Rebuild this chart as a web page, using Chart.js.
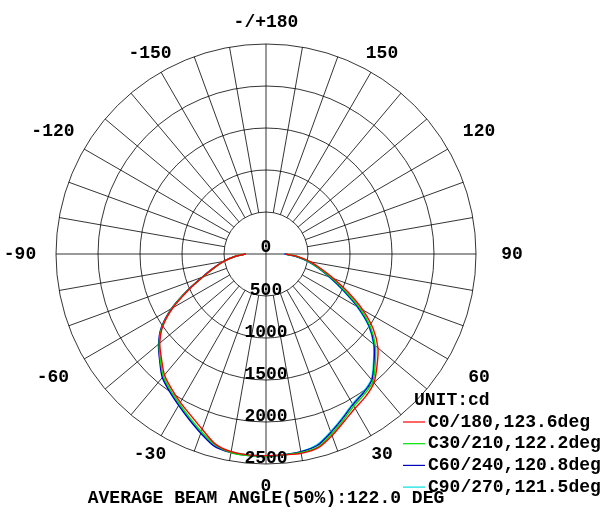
<!DOCTYPE html>
<html><head><meta charset="utf-8">
<script src="https://cdn.jsdelivr.net/npm/chart.js@4"></script>
<style>html,body{margin:0;padding:0;background:#fff}</style>
</head><body>
<canvas id="c" width="600" height="521"></canvas>
<script>
const gammaAngles = [0,5,10,15,20,25,30,35,40,45,50,55,60,65,70,75,80,85,90];
const seriesNames = ['C0/180,123.6deg','C30/210,122.2deg','C60/240,120.8deg','C90/270,121.5deg'];
const seriesColors = ['#ff0000','#00e000','#0000c0','#00e0e0'];
// intensity (cd) on the right side (positive gamma) and left side (negative gamma)
const c0Right  = [2400,2400,2410,2390,2300,2200,2120,2070,2000,1870,1740,1560,1330,1080,860,680,540,390,230];
const c0Left   = [2400,2400,2390,2340,2220,2120,2040,1960,1880,1760,1650,1500,1280,1020,800,640,510,380,240];
const c30Right = [2400,2400,2400,2380,2280,2180,2090,2040,1980,1840,1700,1520,1290,1040,830,660,520,380,230];
const c30Left  = [2410,2410,2400,2350,2250,2150,2060,1980,1900,1780,1660,1510,1290,1030,800,640,510,380,240];
const c60Right = [2400,2400,2390,2360,2260,2160,2070,2020,1960,1820,1680,1500,1260,1010,810,650,510,370,220];
const c60Left  = [2410,2410,2400,2370,2270,2170,2080,2000,1920,1790,1670,1520,1300,1040,810,650,520,380,240];
const c90Right = [2400,2400,2390,2350,2250,2150,2060,2010,1950,1810,1670,1490,1250,1000,800,640,500,370,220];
const c90Left  = [2400,2400,2390,2360,2260,2160,2070,1990,1910,1780,1660,1510,1290,1030,800,640,510,380,240];
const rightSets = [c0Right,c30Right,c60Right,c90Right];
const leftSets = [c0Left,c30Left,c60Left,c90Left];
const ringValues = [500,1000,1500,2000,2500];
const angleLabels = [['-/+180',180],['150',150],['-150',-150],['120',120],['-120',-120],['90',90],['-90',-90],['60',60],['-60',-60],['30',30],['-30',-30],['0',0]];
const MAXV = 2500;

function toXY(g, v){ const a = g*Math.PI/180; return {x: v*Math.sin(a), y: -v*Math.cos(a)}; }
function buildPoints(right,left){
  const pts=[];
  for(let i=gammaAngles.length-1;i>=0;i--) pts.push(toXY(-gammaAngles[i], left[i]));
  for(let i=1;i<gammaAngles.length;i++) pts.push(toXY(gammaAngles[i], right[i]));
  return pts;
}
const FONT = 'bold 18px "Liberation Mono", "DejaVu Sans Mono", monospace';

const gridPlugin = {
  id:'polarGrid',
  beforeDatasetsDraw(chart){
    const ctx=chart.ctx, xs=chart.scales.x, ys=chart.scales.y;
    const cx=xs.getPixelForValue(0), cy=ys.getPixelForValue(0);
    const pr=v=>xs.getPixelForValue(v)-cx;
    ctx.save(); ctx.strokeStyle='#000'; ctx.lineWidth=0.8;
    ringValues.forEach(v=>{ctx.beginPath();ctx.arc(cx,cy,pr(v),0,Math.PI*2);ctx.stroke();});
    for(let g=0; g<360; g+=10){
      const a=g*Math.PI/180; const r0 = (g%90===0)?0:pr(500), r1=pr(MAXV);
      ctx.beginPath();ctx.moveTo(cx+r0*Math.sin(a),cy+r0*Math.cos(a));
      ctx.lineTo(cx+r1*Math.sin(a),cy+r1*Math.cos(a));ctx.stroke();
    }
    ctx.fillStyle='#000'; ctx.font=FONT; ctx.textAlign='center'; ctx.textBaseline='middle';
    const rl=pr(MAXV)+22;
    angleLabels.forEach(([t,g])=>{
      const a=g*Math.PI/180; let r=rl+ (Math.abs(Math.sin(a))>0.5?14:0);
      ctx.fillText(t, cx+r*Math.sin(a), cy+r*Math.cos(a));
    });
    ctx.restore();
  },
  afterDatasetsDraw(chart){
    const ctx=chart.ctx, xs=chart.scales.x, ys=chart.scales.y;
    const cx=xs.getPixelForValue(0), cy=ys.getPixelForValue(0);
    ctx.save(); ctx.fillStyle='#000'; ctx.font=FONT; ctx.textAlign='center'; ctx.textBaseline='middle';
    ctx.fillText('0',cx,cy-7);
    ringValues.forEach(v=>ctx.fillText(String(v),cx,ys.getPixelForValue(-(v-70))));
    ctx.textAlign='left';
    ctx.fillText('UNIT:cd',414,400);
    seriesNames.forEach((n,i)=>{
      const y=422+i*21.7;
      ctx.strokeStyle=seriesColors[i]; ctx.lineWidth=1.2;
      ctx.beginPath();ctx.moveTo(403,y);ctx.lineTo(425,y);ctx.stroke();
      ctx.fillText(n,428,y);
    });
    ctx.textAlign='center';
    ctx.fillText('AVERAGE BEAM ANGLE(50%):122.0 DEG',266,498);
    ctx.restore();
  }
};

new Chart(document.getElementById('c'),{
  type:'scatter',
  data:{datasets: seriesNames.map((n,i)=>({label:n,data:buildPoints(rightSets[i],leftSets[i]),showLine:true,borderColor:seriesColors[i],borderWidth:1.4,pointRadius:0,tension:0.3,fill:false}))},
  options:{responsive:false,animation:false,maintainAspectRatio:false,
    layout:{padding:{left:56,right:124,top:44,bottom:57}},
    scales:{x:{display:false,min:-MAXV,max:MAXV},y:{display:false,min:-MAXV,max:MAXV}},
    plugins:{legend:{display:false},tooltip:{enabled:false}}},
  plugins:[gridPlugin]
});
</script>
</body></html>
